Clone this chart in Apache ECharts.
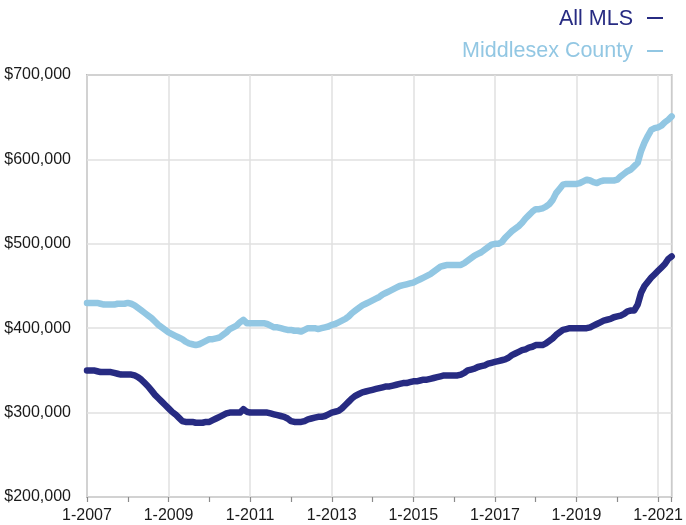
<!DOCTYPE html>
<html>
<head>
<meta charset="utf-8">
<script src="https://cdn.jsdelivr.net/npm/echarts@6/dist/echarts.min.js"></script>
<style>
html,body{margin:0;padding:0;background:#fff;}
#chart{width:686px;height:525px;}
</style>
</head>
<body>
<div id="chart"></div>
<script>
// Monthly median prices (thousands of $), Jan 2007 .. May 2021
const startYear = 2007;
const seriesNames = ['All MLS', 'Middlesex County'];
const allMLS = [
  350,350,350,349,348,348,348,348,347,346,345,345, // 2007
  345,345,344,342,339,335,331,326,321,317,313,309, // 2008
  305,301,298,294,290,289,289,289,288,288,288,289, // 2009
  289,291,293,295,297,299,300,300,300,300,304,301, // 2010
  300,300,300,300,300,300,299,298,297,296,295,293, // 2011
  290,289,289,289,290,292,293,294,295,295,296,298, // 2012
  300,301,302,305,309,313,317,320,322,324,325,326, // 2013
  327,328,329,330,331,331,332,333,334,335,335,336, // 2014
  337,337,338,339,339,340,341,342,343,344,344,344, // 2015
  344,344,345,347,350,351,352,354,355,356,358,359, // 2016
  360,361,362,363,365,368,370,372,374,375,377,378, // 2017
  380,380,380,382,385,388,392,395,398,399,400,400, // 2018
  400,400,400,400,401,403,405,407,409,410,411,413, // 2019
  414,415,417,420,421,421,428,442,450,455,460,464, // 2020
  468,472,476,482,485                              // 2021
];
const middlesex = [
  430,430,430,430,429,428,428,428,428,429,429,429, // 2007
  430,429,427,424,421,418,415,412,408,404,401,398, // 2008
  395,393,391,389,387,384,382,381,380,381,383,385, // 2009
  387,387,388,389,392,395,399,401,403,407,410,406, // 2010
  406,406,406,406,406,405,403,401,401,400,399,398, // 2011
  398,397,397,396,398,400,400,400,399,400,401,402, // 2012
  404,405,407,409,411,414,418,421,424,427,429,431, // 2013
  433,435,437,440,442,444,446,448,450,451,452,453, // 2014
  454,456,458,460,462,464,467,470,473,474,475,475, // 2015
  475,475,475,477,480,483,486,488,490,493,496,499, // 2016
  500,500,502,507,511,515,518,521,525,530,534,538, // 2017
  541,541,542,544,547,552,560,565,570,571,571,571, // 2018
  571,572,574,576,575,573,572,574,575,575,575,575, // 2019
  576,580,583,586,588,592,596,610,620,628,635,637, // 2020
  638,640,644,647,651                              // 2021
];
const yTicks = [200000, 300000, 400000, 500000, 600000, 700000];
const colors = ['#272b82', '#92c7e3'];

const toPairs = arr => arr.map((v, i) => [i, v * 1000]);
const lastIdx = allMLS.length - 1;

const chart = echarts.init(document.getElementById('chart'), null, {renderer: 'canvas'});
const font = 'Liberation Sans, Arial, Helvetica, sans-serif';

chart.setOption({
  animation: false,
  textStyle: {fontFamily: font},
  grid: {left: 87, right: 10, top: 75, bottom: 28, show: true, borderColor: '#8a8a8a', borderWidth: 1.5, backgroundColor: 'transparent'},
  xAxis: [{
    type: 'value', min: 0, max: lastIdx, interval: 24,
    axisLine: {show: false},
    axisTick: {show: false},
    splitLine: {show: true, lineStyle: {color: '#e0e0e0', width: 1.5}},
    axisLabel: {
      fontSize: 16, color: '#1a1a1a', fontFamily: font, margin: 11,
      showMaxLabel: false,
      formatter: v => (v % 24 === 0) ? ('1-' + (startYear + v / 12)) : ''
    }
  }, {
    type: 'value', min: 0, max: lastIdx, interval: 12, position: 'bottom',
    axisLine: {show: false},
    axisTick: {show: true, length: 5, lineStyle: {color: '#8a8a8a', width: 1.2}},
    splitLine: {show: false},
    axisLabel: {show: false}
  }],
  yAxis: {
    type: 'value', min: yTicks[0], max: yTicks[yTicks.length - 1], interval: 100000,
    axisLine: {show: false},
    axisTick: {show: false},
    splitLine: {show: true, lineStyle: {color: '#e0e0e0', width: 1.5}},
    axisLabel: {
      fontSize: 16, color: '#1a1a1a', fontFamily: font, margin: 16,
      formatter: v => '$' + v.toLocaleString('en-US')
    }
  },
  graphic: [
    {type: 'text', right: 53, top: 8, style: {text: seriesNames[0], fill: colors[0], font: '21.5px ' + font, textAlign: 'right'}},
    {type: 'rect', shape: {x: 647, y: 17, width: 16, height: 2}, style: {fill: colors[0]}},
    {type: 'text', right: 53, top: 40, style: {text: seriesNames[1], fill: colors[1], font: '21.5px ' + font, textAlign: 'right'}},
    {type: 'rect', shape: {x: 647, y: 50, width: 16, height: 2}, style: {fill: colors[1]}}
  ],
  series: [
    {name: seriesNames[1], type: 'line', data: toPairs(middlesex), showSymbol: false, symbol: 'none',
     lineStyle: {color: colors[1], width: 6.5, cap: 'round', join: 'round'}, z: 3},
    {name: seriesNames[0], type: 'line', data: toPairs(allMLS), showSymbol: false, symbol: 'none',
     lineStyle: {color: colors[0], width: 6.5, cap: 'round', join: 'round'}, z: 4}
  ]
});
</script>
</body>
</html>
